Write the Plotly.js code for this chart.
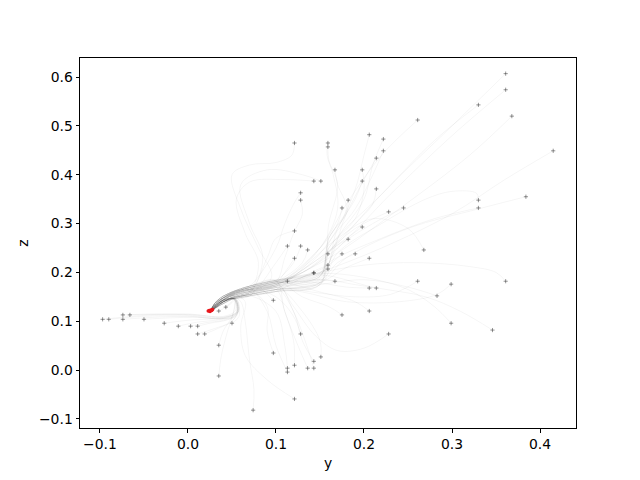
<!DOCTYPE html>
<html>
<head>
<meta charset="utf-8">
<script src="https://cdn.plot.ly/plotly-3.0.1.min.js"></script>
<style>html,body{margin:0;padding:0;background:#fff}#chart{width:640px;height:480px}</style>
</head>
<body>
<div id="chart"></div>
<script>
// ---- Data (y, z pairs) ----
// Approach strands into the attractor (the bundle seen from y≈0.15 down to the red end states)
const strand1 = [[0.15,0.198],[0.1,0.184],[0.07,0.172],[0.05,0.160],[0.037,0.148],[0.030,0.136],[0.026,0.123]];
const strand2 = [[0.15,0.195],[0.1,0.181],[0.07,0.169],[0.05,0.158],[0.038,0.146],[0.030,0.135],[0.026,0.123]];
const strand3 = [[0.15,0.192],[0.1,0.178],[0.07,0.166],[0.05,0.156],[0.038,0.145],[0.031,0.134],[0.026,0.123]];
const strand4 = [[0.15,0.189],[0.1,0.175],[0.07,0.164],[0.05,0.154],[0.039,0.143],[0.031,0.133],[0.026,0.122]];
const strand5 = [[0.15,0.186],[0.1,0.172],[0.07,0.161],[0.05,0.152],[0.039,0.142],[0.032,0.132],[0.027,0.123]];
const strand6 = [[0.15,0.183],[0.1,0.169],[0.07,0.158],[0.05,0.149],[0.040,0.140],[0.032,0.131],[0.027,0.122]];
const strand7 = [[0.15,0.179],[0.1,0.165],[0.07,0.155],[0.05,0.147],[0.040,0.139],[0.033,0.130],[0.027,0.123]];
const strand8 = [[0.15,0.175],[0.1,0.161],[0.07,0.152],[0.05,0.145],[0.041,0.137],[0.033,0.129],[0.027,0.122]];
const strandLeftA = [[0.05,0.145],[0.04,0.140],[0.033,0.131],[0.027,0.122]];
const strandLeftB = [[0.05,0.148],[0.04,0.143],[0.032,0.133],[0.026,0.123]];

// Trajectories starting in the upper right
const upperRight = [
  [[0.361,0.607],[0.30,0.50],[0.22,0.36],[0.17,0.26],[0.13,0.20]],
  [[0.361,0.574],[0.30,0.48],[0.23,0.36],[0.17,0.25],[0.13,0.20]],
  [[0.330,0.543],[0.28,0.47],[0.22,0.36],[0.16,0.25]],
  [[0.368,0.520],[0.32,0.44],[0.24,0.33],[0.17,0.24],[0.13,0.20]],
  [[0.261,0.512],[0.22,0.44],[0.18,0.34],[0.15,0.25]],
  [[0.415,0.449],[0.36,0.39],[0.30,0.32],[0.22,0.25],[0.15,0.20]],
  [[0.384,0.355],[0.33,0.33],[0.25,0.29],[0.18,0.23]],
  [[0.330,0.348],[0.328,0.362],[0.30,0.366],[0.27,0.35],[0.22,0.30],[0.17,0.24]],
  [[0.330,0.332],[0.28,0.31],[0.22,0.27],[0.16,0.22]],
  [[0.245,0.332],[0.21,0.30],[0.17,0.25]],
  [[0.268,0.246],[0.25,0.29],[0.21,0.31],[0.17,0.27],[0.13,0.21]],
  [[0.228,0.324],[0.19,0.29],[0.15,0.23]]
];

// Trajectories starting lower right
const lowerRight = [
  [[0.361,0.182],[0.35,0.20],[0.32,0.212],[0.26,0.22],[0.20,0.215],[0.14,0.195]],
  [[0.261,0.182],[0.23,0.155],[0.19,0.15],[0.14,0.16]],
  [[0.299,0.176],[0.283,0.155],[0.24,0.14],[0.18,0.14],[0.13,0.16]],
  [[0.283,0.152],[0.25,0.17],[0.20,0.185]],
  [[0.299,0.096],[0.28,0.13],[0.25,0.165],[0.20,0.19]],
  [[0.346,0.082],[0.31,0.12],[0.27,0.15],[0.21,0.17]],
  [[0.228,0.074],[0.20,0.045],[0.17,0.04],[0.145,0.07],[0.12,0.13]]
];

// Trajectories starting in the upper middle
const upperMid = [
  [[0.206,0.482],[0.20,0.44],[0.19,0.37],[0.17,0.29],[0.14,0.22]],
  [[0.222,0.473],[0.21,0.42],[0.20,0.35],[0.17,0.27]],
  [[0.121,0.465],[0.118,0.44],[0.10,0.425],[0.07,0.42],[0.05,0.40],[0.06,0.33],[0.08,0.25],[0.095,0.19]],
  [[0.159,0.465],[0.158,0.44],[0.165,0.40],[0.17,0.33],[0.15,0.25]],
  [[0.159,0.457],[0.16,0.43],[0.17,0.38],[0.16,0.30]],
  [[0.222,0.449],[0.21,0.40],[0.19,0.33],[0.16,0.26]],
  [[0.214,0.434],[0.20,0.39],[0.18,0.32]],
  [[0.167,0.410],[0.17,0.38],[0.18,0.33],[0.16,0.27]],
  [[0.198,0.410],[0.20,0.37],[0.19,0.31],[0.16,0.25]],
  [[0.143,0.387],[0.11,0.39],[0.07,0.385],[0.055,0.35],[0.065,0.28],[0.08,0.22]],
  [[0.151,0.387],[0.13,0.40],[0.09,0.41],[0.06,0.38],[0.07,0.30],[0.085,0.23]],
  [[0.198,0.387],[0.19,0.35],[0.17,0.29]],
  [[0.214,0.371],[0.21,0.34],[0.19,0.30],[0.16,0.24]],
  [[0.128,0.363],[0.12,0.34],[0.11,0.30],[0.10,0.25]],
  [[0.128,0.348],[0.13,0.32],[0.12,0.28],[0.11,0.23]],
  [[0.182,0.348],[0.18,0.32],[0.16,0.27]],
  [[0.175,0.332],[0.17,0.30],[0.15,0.25]],
  [[0.198,0.293],[0.18,0.27],[0.15,0.23]]
];

// Trajectories starting around the middle
const middle = [
  [[0.121,0.285],[0.10,0.27],[0.09,0.23]],
  [[0.182,0.268],[0.16,0.24]],
  [[0.113,0.254],[0.10,0.22]],
  [[0.128,0.254],[0.12,0.22]],
  [[0.136,0.246],[0.13,0.22]],
  [[0.121,0.229],[0.11,0.20]],
  [[0.159,0.238],[0.14,0.21]],
  [[0.175,0.238],[0.155,0.21]],
  [[0.190,0.238],[0.17,0.22]],
  [[0.206,0.229],[0.18,0.21]],
  [[0.159,0.215],[0.14,0.20]],
  [[0.159,0.207],[0.14,0.195]],
  [[0.143,0.199],[0.12,0.19]],
  [[0.143,0.199],[0.12,0.185]],
  [[0.113,0.182],[0.10,0.178]],
  [[0.167,0.182],[0.14,0.185]],
  [[0.206,0.168],[0.18,0.17],[0.14,0.18]],
  [[0.214,0.168],[0.19,0.175],[0.15,0.185]],
  [[0.097,0.143],[0.09,0.155],[0.08,0.17]],
  [[0.175,0.113],[0.16,0.13],[0.13,0.15]],
  [[0.206,0.121],[0.19,0.14],[0.15,0.16]]
];

// Trajectories starting near the bottom
const bottom = [
  [[0.128,0.074],[0.12,0.11],[0.10,0.15]],
  [[0.097,0.035],[0.09,0.08],[0.09,0.13]],
  [[0.151,0.027],[0.15,0.06],[0.13,0.12]],
  [[0.143,0.018],[0.13,0.06],[0.12,0.12]],
  [[0.121,0.010],[0.12,0.06],[0.11,0.12]],
  [[0.113,0.004],[0.11,0.05],[0.10,0.12]],
  [[0.136,0.004],[0.125,0.05],[0.11,0.12]],
  [[0.143,0.004],[0.135,0.05],[0.12,0.12]],
  [[0.113,-0.004],[0.10,0.05],[0.09,0.12]],
  [[0.121,-0.059],[0.09,-0.02],[0.065,0.03],[0.06,0.09],[0.065,0.14]],
  [[0.074,-0.082],[0.075,-0.04],[0.07,0.02],[0.065,0.10],[0.06,0.14]]
];

// Trajectories starting on the left
const left = [
  [[-0.097,0.104],[-0.05,0.112],[0.0,0.113],[0.04,0.108],[0.055,0.12],[0.052,0.145]],
  [[-0.090,0.104],[-0.05,0.110],[0.0,0.111],[0.04,0.107],[0.056,0.12],[0.053,0.146]],
  [[-0.074,0.113],[-0.04,0.115],[0.0,0.115],[0.04,0.110],[0.054,0.122],[0.052,0.146]],
  [[-0.066,0.113],[-0.03,0.114],[0.01,0.113],[0.042,0.109],[0.056,0.12],[0.053,0.146]],
  [[-0.074,0.104],[-0.04,0.108],[0.0,0.110],[0.04,0.106],[0.057,0.12],[0.054,0.146]],
  [[-0.050,0.104],[-0.02,0.107],[0.01,0.108],[0.042,0.106],[0.057,0.12],[0.053,0.146]],
  [[-0.027,0.096],[0.0,0.102],[0.03,0.105],[0.05,0.108],[0.058,0.122],[0.054,0.146]],
  [[-0.011,0.090],[0.01,0.098],[0.035,0.103],[0.052,0.11],[0.056,0.125],[0.052,0.146]],
  [[0.003,0.090],[0.02,0.097],[0.04,0.102],[0.055,0.112],[0.054,0.146]],
  [[0.011,0.090],[0.025,0.096],[0.045,0.103],[0.056,0.115],[0.053,0.146]],
  [[0.011,0.074],[0.03,0.085],[0.048,0.098],[0.057,0.118],[0.053,0.146]],
  [[0.019,0.074],[0.035,0.086],[0.05,0.10],[0.056,0.12],[0.052,0.146]],
  [[0.035,0.121],[0.042,0.128],[0.052,0.146]],
  [[0.043,0.129],[0.05,0.138],[0.054,0.148]],
  [[0.050,0.096],[0.058,0.11],[0.055,0.146]],
  [[0.035,0.051],[0.04,0.08],[0.05,0.11],[0.053,0.146]],
  [[0.035,-0.012],[0.038,0.03],[0.045,0.08],[0.052,0.12],[0.052,0.146]]
];

// Red end states at the attractor
const endY = [0.023, 0.024, 0.025, 0.026, 0.027, 0.028, 0.025];
const endZ = [0.121, 0.122, 0.121, 0.123, 0.122, 0.124, 0.120];

// Tick labels
const xTicks = [-0.1, 0.0, 0.1, 0.2, 0.3, 0.4];
const xTickText = ['\u22120.1','0.0','0.1','0.2','0.3','0.4'];
const yTicks = [-0.1, 0.0, 0.1, 0.2, 0.3, 0.4, 0.5, 0.6];
const yTickText = ['\u22120.1','0.0','0.1','0.2','0.3','0.4','0.5','0.6'];

// ---- Build traces ----
const strands = [strand1, strand2, strand3, strand4, strand5, strand6, strand7, strand8];
const leftStrands = [strandLeftA, strandLeftB];
const groups = [upperRight, lowerRight, upperMid, middle, bottom];

const traces = [];
const startY = [], startZ = [];
function addPath(head, tail) {
  const last = head[head.length - 1];
  const pts = head.concat(tail.filter(p => p[0] < last[0] - 0.008));
  traces.push({
    type: 'scatter', mode: 'lines',
    x: pts.map(p => p[0]), y: pts.map(p => p[1]),
    line: {color: 'rgba(0,0,0,0.05)', width: 0.8, shape: 'spline', smoothing: 1},
    hoverinfo: 'skip', showlegend: false
  });
  startY.push(head[0][0]); startZ.push(head[0][1]);
}
let k = 0;
groups.forEach(paths => paths.forEach(head => { addPath(head, strands[k % strands.length]); k++; }));
left.forEach((head, i) => addPath(head, leftStrands[i % leftStrands.length]));

traces.push({
  type: 'scatter', mode: 'markers', x: startY, y: startZ,
  marker: {symbol: 'cross-thin', size: 3, line: {color: 'rgba(40,40,40,0.55)', width: 0.9}},
  showlegend: false, hoverinfo: 'skip'
});
traces.push({
  type: 'scatter', mode: 'markers', x: endY, y: endZ,
  marker: {symbol: 'circle', size: 3.5, color: '#e8161b'},
  showlegend: false, hoverinfo: 'skip'
});

const axisCommon = {
  showgrid: false, zeroline: false, showline: true, mirror: true,
  linecolor: 'black', linewidth: 1, ticks: 'outside', ticklen: 3.5,
  tickcolor: 'black', tickwidth: 1,
  tickfont: {family: 'DejaVu Sans', size: 13.9, color: 'black'}
};

const layout = {
  width: 640, height: 480,
  margin: {l: 80, r: 64, t: 58, b: 52},
  paper_bgcolor: 'white', plot_bgcolor: 'white',
  font: {family: 'DejaVu Sans', size: 13.9, color: 'black'},
  xaxis: Object.assign({}, axisCommon, {
    range: [-0.1227, 0.4409], tickvals: xTicks, ticktext: xTickText,
    title: {text: 'y', font: {family: 'DejaVu Sans', size: 13.9}, standoff: 7}
  }),
  yaxis: Object.assign({}, axisCommon, {
    range: [-0.1185, 0.639], tickvals: yTicks, ticktext: yTickText,
    title: {text: 'z', font: {family: 'DejaVu Sans', size: 13.9}, standoff: 7}
  })
};

Plotly.newPlot('chart', traces, layout, {staticPlot: true, displayModeBar: false});
</script>
</body>
</html>
